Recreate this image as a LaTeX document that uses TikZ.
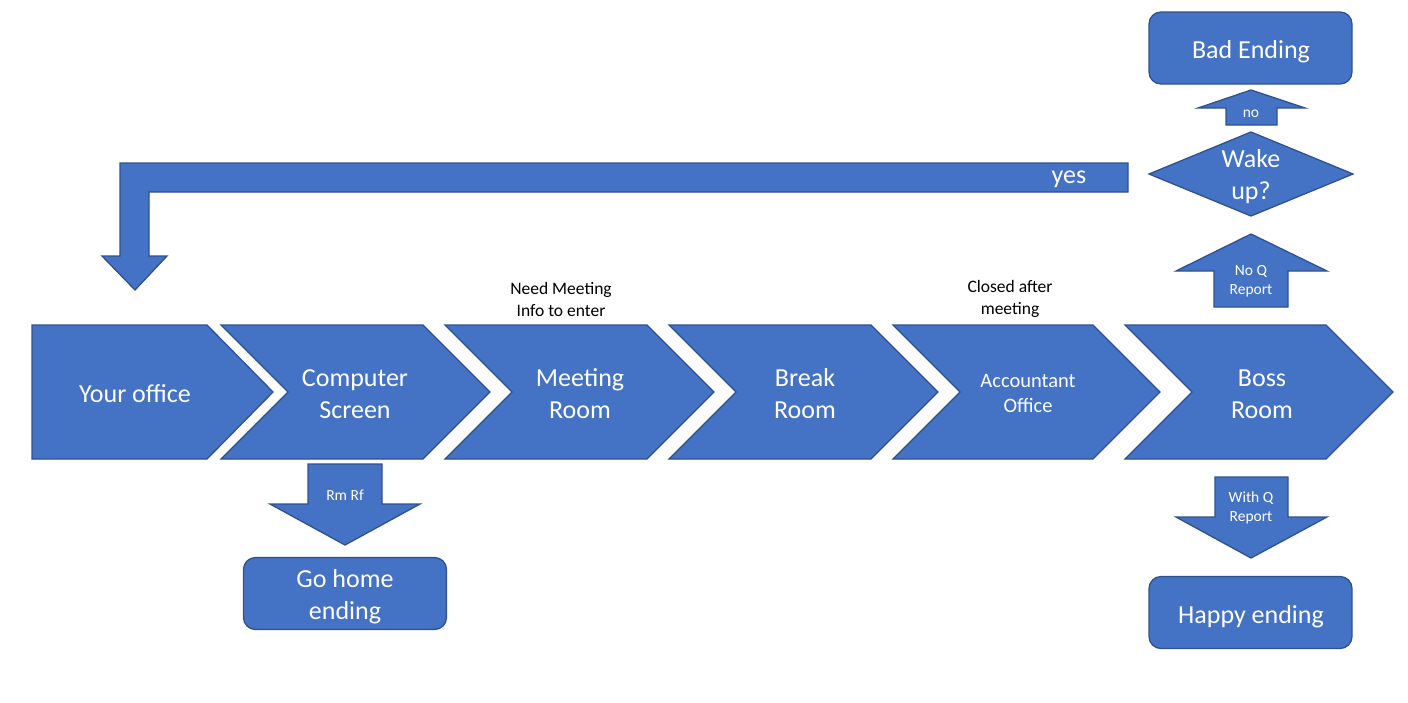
\documentclass[tikz,border=0pt]{standalone}
\usepackage{fontspec}
\setmainfont{Carlito}
\definecolor{fillc}{HTML}{4472C4}
\definecolor{linec}{HTML}{2F528F}
\tikzset{
 blk/.style={fill=fillc,draw=linec,line width=1.3pt,line join=miter},
 wt/.style={text=white,align=center,inner sep=0pt},
 big/.style={font=\fontsize{26}{32}\selectfont},
 midf/.style={font=\fontsize{20.5}{25}\selectfont},
 capf/.style={font=\fontsize{17.5}{22}\selectfont,align=center,inner sep=0pt,text=black},
 sml/.style={font=\fontsize{15.5}{19}\selectfont},
 endbox/.style={blk,rounded corners=12pt,minimum width=203pt,minimum height=72pt,inner sep=0pt}
}
\begin{document}
\begin{tikzpicture}[x=1pt,y=-1pt]
\useasboundingbox (0,0) rectangle (1408,702);
% process chevrons
\draw[blk] (32,325) -- (207,325) -- (273,392) -- (207,459) -- (32,459) -- cycle;
\foreach \x/\w in {221/202,445/202,669/202,893/200,1125/201}{
  \draw[blk] (\x,325) -- ++(\w,0) -- ++(67,67) -- ++(-67,67) -- ++(-\w,0) -- ++(67,-67) -- cycle;
}
\node[wt,big] (office) at (135,394) {Your office};
\node[wt,big] (computer) at (355,394) {Computer\\Screen};
\node[wt,big] (meeting) at (580,394) {Meeting\\Room};
\node[wt,big] (break) at (805,394) {Break\\Room};
\node[wt,midf] (accountant) at (1028,393) {Accountant\\Office};
\node[wt,big] (boss) at (1262,394) {Boss\\Room};
% captions
\node[capf] (needinfo) at (561,299) {Need Meeting\\Info to enter};
\node[capf] (closed) at (1010,299) {Closed after\\meeting};
% yes bent arrow
\draw[blk] (1128,163) -- (120,163) -- (120,256) -- (102,256) -- (135,290) -- (167,256) -- (149,256) -- (149,192) -- (1128,192) -- cycle;
\node[wt,big] (yes) at (1069,179) {yes};
% Rm Rf arrow
\draw[blk] (308,464) -- (382,464) -- (382,504) -- (420,504) -- (345,545) -- (270,504) -- (308,504) -- cycle;
\node[wt,sml] (rmrf) at (345,495) {Rm Rf};
\node[endbox] (gohome) at (345,593.5) {};
\node[wt,big] (gohometext) at (345,596.5) {Go home\\ending};
% No Q report arrow
\draw[blk] (1214,307) -- (1214,271) -- (1176,271) -- (1251,234) -- (1327,271) -- (1288,271) -- (1288,307) -- cycle;
\node[wt,sml] (noq) at (1251,281) {No Q\\Report};
% diamond
\draw[blk] (1149,174) -- (1251,132) -- (1353,174) -- (1251,216) -- cycle;
\node[wt,big] (wake) at (1251,177) {Wake\\up?};
% no arrow
\draw[blk] (1226,125) -- (1226,108) -- (1198,108) -- (1251,90) -- (1305,108) -- (1277,108) -- (1277,125) -- cycle;
\node[wt,sml] (no) at (1251,114) {no};
\node[endbox] (bad) at (1250.5,48) {};
\node[wt,big] (badtext) at (1251,52) {Bad Ending};
% With Q report arrow
\draw[blk] (1215,477) -- (1288,477) -- (1288,517) -- (1327,517) -- (1251,558) -- (1176,517) -- (1215,517) -- cycle;
\node[wt,sml] (withq) at (1251,508) {With Q\\Report};
\node[endbox] (happy) at (1250.5,612.5) {};
\node[wt,big] (happytext) at (1251,616.5) {Happy ending};
\end{tikzpicture}
\end{document}
